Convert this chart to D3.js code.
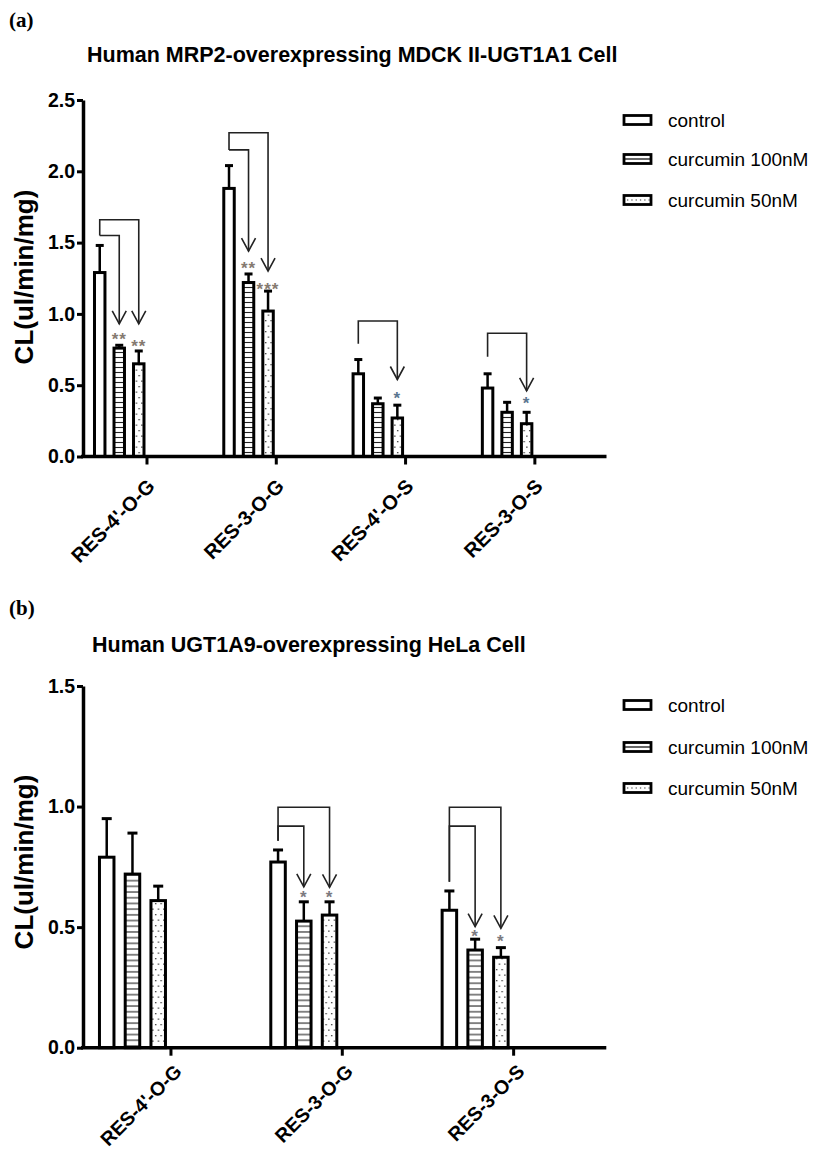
<!DOCTYPE html>
<html>
<head>
<meta charset="utf-8">
<script src="https://cdn.jsdelivr.net/npm/d3@7"></script>
<style>
  body { margin: 0; background: #fff; }
  text { font-family: "Liberation Sans", Arial, sans-serif; }
</style>
</head>
<body>
<svg id="chart" width="813" height="1153"></svg>
<script>
const seriesNames = ['control', 'curcumin 100nM', 'curcumin 50nM'];

// panel (a)
const catsA = ["RES-4'-O-G", 'RES-3-O-G', "RES-4'-O-S", 'RES-3-O-S'];
const controlA = [1.29, 1.88, 0.58, 0.48];
const controlErrA = [0.19, 0.16, 0.10, 0.10];
const cur100A = [0.76, 1.22, 0.37, 0.31];
const cur100ErrA = [0.02, 0.06, 0.04, 0.07];
const cur50A = [0.65, 1.02, 0.27, 0.23];
const cur50ErrA = [0.09, 0.14, 0.09, 0.08];
const ticksA = [0, 0.5, 1.0, 1.5, 2.0, 2.5];
// [category, series, bracket start, bracket top, arrow tip, star level, label]
const sigA = [
  [0, 1, 1.55, 1.55, 0.93, 0.85, '**'],
  [0, 2, 1.55, 1.66, 0.93, 0.80, '**'],
  [1, 1, 2.15, 2.15, 1.44, 1.35, '**'],
  [1, 2, 2.15, 2.27, 1.30, 1.20, '***'],
  [2, 2, 0.79, 0.95, 0.54, 0.44, '*'],
  [3, 2, 0.70, 0.864, 0.46, 0.40, '*']
];

// panel (b)
const catsB = ["RES-4'-O-G", 'RES-3-O-G', 'RES-3-O-S'];
const controlB = [0.79, 0.77, 0.57];
const controlErrB = [0.16, 0.05, 0.08];
const cur100B = [0.72, 0.525, 0.405];
const cur100ErrB = [0.17, 0.08, 0.045];
const cur50B = [0.61, 0.55, 0.375];
const cur50ErrB = [0.06, 0.055, 0.04];
const ticksB = [0, 0.5, 1.0, 1.5];
const sigB = [
  [1, 1, 0.858, 0.919, 0.667, 0.643, '*'],
  [1, 2, 0.858, 0.997, 0.665, 0.643, '*'],
  [2, 1, 0.688, 0.919, 0.502, 0.481, '*'],
  [2, 2, 0.688, 0.997, 0.495, 0.46, '*']
];

const svg = d3.select('#chart');
const defs = svg.append('defs');

function stripes(id, gap) {
  const p = defs.append('pattern').attr('id', id)
    .attr('patternUnits', 'userSpaceOnUse').attr('width', 10).attr('height', gap);
  p.append('rect').attr('width', 10).attr('height', gap).attr('fill', '#fff');
  p.append('line').attr('x1', 0).attr('x2', 10).attr('y1', gap / 2).attr('y2', gap / 2)
    .attr('stroke', '#222').attr('stroke-width', 1.1);
}
function dots(id, gap) {
  const p = defs.append('pattern').attr('id', id)
    .attr('patternUnits', 'userSpaceOnUse').attr('width', gap).attr('height', gap * 2);
  p.append('rect').attr('width', gap).attr('height', gap * 2).attr('fill', '#fff');
  p.append('rect').attr('x', 1).attr('y', 1).attr('width', 1.3).attr('height', 1.3).attr('fill', '#333');
  p.append('rect').attr('x', 1 + gap / 2).attr('y', 1 + gap).attr('width', 1.3).attr('height', 1.3).attr('fill', '#333');
}
stripes('stripesA', 5);
stripes('stripesB', 5.7);
dots('dotsA', 5.5);
dots('dotsB', 5.5);

function drawPanel(cfg) {
  const g = svg.append('g');
  const y = d3.scaleLinear().domain([0, cfg.ticks[cfg.ticks.length - 1]]).range([cfg.bottom, cfg.top]);
  const x = d3.scaleBand().domain(cfg.cats).range([cfg.left, cfg.right]).padding(0);
  const inner = d3.scaleBand().domain([0, 1, 2]).range(cfg.innerRange).paddingInner(cfg.innerPad);
  const fills = ['#fff', `url(#${cfg.stripe})`, `url(#${cfg.dot})`];
  const center = c => x(c) + x.bandwidth() / 2;
  const barX = (ci, s) => center(cfg.cats[ci]) + inner(s);
  const barMid = (ci, s) => barX(ci, s) + inner.bandwidth() / 2;

  // bars
  cfg.series.forEach((vals, s) => {
    g.selectAll(null).data(vals).enter().append('rect')
      .attr('x', (d, i) => barX(i, s) + 1.5)
      .attr('width', inner.bandwidth() - 3)
      .attr('y', d => y(d))
      .attr('height', d => y(0) - y(d))
      .attr('fill', fills[s])
      .attr('stroke', '#000')
      .attr('stroke-width', 3);
    // error bars (upper only)
    const errs = cfg.errors[s];
    g.selectAll(null).data(vals).enter().append('line')
      .attr('x1', (d, i) => barMid(i, s)).attr('x2', (d, i) => barMid(i, s))
      .attr('y1', d => y(d)).attr('y2', (d, i) => y(d + errs[i]))
      .attr('stroke', '#000').attr('stroke-width', 2.5);
    g.selectAll(null).data(vals).enter().append('line')
      .attr('x1', (d, i) => barMid(i, s) - cfg.cap / 2).attr('x2', (d, i) => barMid(i, s) + cfg.cap / 2)
      .attr('y1', (d, i) => y(d + errs[i])).attr('y2', (d, i) => y(d + errs[i]))
      .attr('stroke', '#000').attr('stroke-width', 3);
  });

  // significance brackets
  cfg.sig.forEach(([ci, s, start, top, tip, star, label]) => {
    const x0 = barMid(ci, 0), x1 = barMid(ci, s);
    g.append('path')
      .attr('d', `M${x0},${y(start)}V${y(top)}H${x1}V${y(tip)}`)
      .attr('fill', 'none').attr('stroke', '#222').attr('stroke-width', 1.6);
    g.append('path')
      .attr('d', `M${x1 - 7},${y(tip) - 13}L${x1},${y(tip)}L${x1 + 7},${y(tip) - 13}`)
      .attr('fill', 'none').attr('stroke', '#222').attr('stroke-width', 1.6);
    g.append('text')
      .attr('x', x1).attr('y', y(star) + 10)
      .attr('text-anchor', 'middle')
      .attr('font-size', 17).attr('font-weight', 'bold')
      .attr('letter-spacing', 1)
      .attr('fill', cfg.starColor(ci))
      .text(label);
  });

  // y axis
  const ya = g.append('g').attr('transform', `translate(${cfg.axisX},0)`)
    .call(d3.axisLeft(y).tickValues(cfg.ticks).tickSize(6).tickSizeOuter(0).tickPadding(2)
      .tickFormat(d3.format('.1f')));
  ya.select('.domain').attr('stroke-width', 3.5);
  ya.selectAll('.tick line').attr('stroke-width', 3);
  ya.selectAll('.tick text').attr('font-size', 19.5).attr('font-weight', 'bold')
    .attr('font-family', '"Liberation Sans", Arial, sans-serif').attr('fill', '#000');

  // x axis
  const xa = g.append('g').attr('transform', `translate(0,${cfg.bottom})`)
    .call(d3.axisBottom(x).tickSize(8).tickSizeOuter(0));
  xa.select('.domain').remove();
  xa.append('line').attr('x1', cfg.axisX - 2).attr('x2', cfg.right + 7)
    .attr('stroke', '#000').attr('stroke-width', 3.5);
  xa.selectAll('.tick line').attr('stroke-width', 3).attr('y1', 1);
  xa.selectAll('.tick text')
    .attr('x', 0).attr('y', 0).attr('dy', 0)
    .attr('text-anchor', 'end')
    .attr('transform', `translate(${cfg.labelOffset[0]},${cfg.labelOffset[1]}) rotate(-45)`)
    .attr('font-size', cfg.labelSize).attr('font-weight', 'bold')
    .attr('font-family', '"Liberation Sans", Arial, sans-serif').attr('fill', '#000');

  // y title
  g.append('text')
    .attr('transform', `translate(33,${cfg.yTitleMid}) rotate(-90)`)
    .attr('text-anchor', 'middle')
    .attr('font-size', 26).attr('font-weight', 'bold')
    .text('CL(ul/min/mg)');

  // titles
  g.append('text').attr('x', 9).attr('y', cfg.tagY)
    .style('font-family', '"Liberation Serif", "Times New Roman", serif')
    .attr('font-size', 21).attr('font-weight', 'bold').text(cfg.tag);
  g.append('text').attr('x', cfg.titleX).attr('y', cfg.titleY)
    .attr('font-size', 21.5).attr('font-weight', 'bold').text(cfg.title);

  // legend
  const lg = g.append('g');
  seriesNames.forEach((name, s) => {
    const ry = cfg.legendRows[s];
    lg.append('rect').attr('x', 624).attr('y', ry - 4.5).attr('width', 27).attr('height', 9)
      .attr('fill', '#fff').attr('stroke', '#000').attr('stroke-width', 2.8);
    if (s === 1) {
      lg.append('line').attr('x1', 625).attr('x2', 650).attr('y1', ry).attr('y2', ry)
        .attr('stroke', '#000').attr('stroke-width', 1.2);
    }
    if (s === 2) {
      lg.append('line').attr('x1', 627).attr('x2', 650).attr('y1', ry).attr('y2', ry)
        .attr('stroke', '#333').attr('stroke-width', 1.2).attr('stroke-dasharray', '1.3,3');
    }
    lg.append('text').attr('x', 668).attr('y', ry).attr('dy', '0.36em')
      .attr('font-size', 19).attr('fill', '#000').text(name);
  });
}

drawPanel({
  cats: catsA,
  series: [controlA, cur100A, cur50A],
  errors: [controlErrA, cur100ErrA, cur50ErrA],
  ticks: ticksA,
  sig: sigA,
  top: 100, bottom: 456.5,
  left: 82.35, right: 599.5,
  axisX: 83,
  innerRange: [-54, -1.5], innerPad: 0.31, cap: 8,
  stripe: 'stripesA', dot: 'dotsA',
  starColor: ci => (ci >= 2 ? '#5b7690' : '#857a70'),
  labelOffset: [9, 31], labelSize: 20,
  yTitleMid: 277,
  tag: '(a)', tagY: 27,
  title: 'Human MRP2-overexpressing MDCK II-UGT1A1 Cell', titleX: 87, titleY: 62,
  legendRows: [120, 159, 200]
});

drawPanel({
  cats: catsB,
  series: [controlB, cur100B, cur50B],
  errors: [controlErrB, cur100ErrB, cur50ErrB],
  ticks: ticksB,
  sig: sigB,
  top: 686, bottom: 1047.7,
  left: 85.3, right: 599.3,
  axisX: 83,
  innerRange: [-73, -4], innerPad: 0.32, cap: 10,
  stripe: 'stripesB', dot: 'dotsB',
  starColor: ci => '#7c7a80',
  labelOffset: [12, 25], labelSize: 19.5,
  yTitleMid: 862,
  tag: '(b)', tagY: 615,
  title: 'Human UGT1A9-overexpressing HeLa Cell', titleX: 92, titleY: 652,
  legendRows: [705, 747, 788]
});
</script>
</body>
</html>
